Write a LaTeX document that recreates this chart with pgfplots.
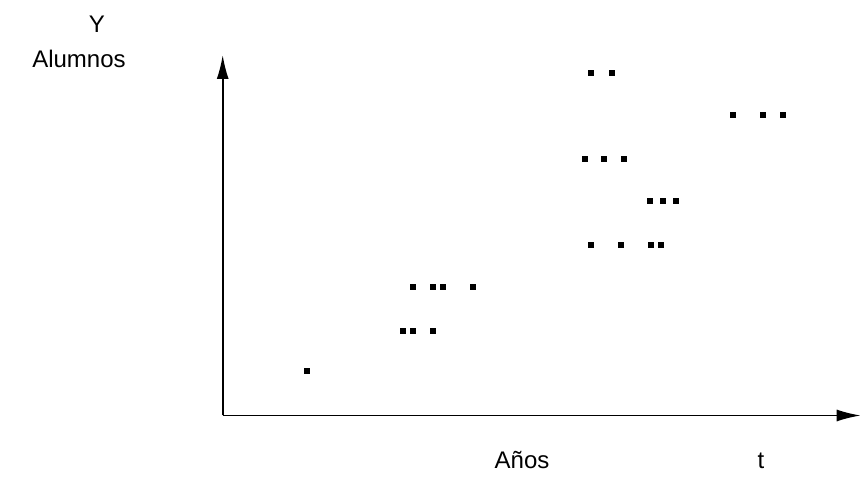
\documentclass[border=0pt]{standalone}
\usepackage{pgfplots}
\pgfplotsset{compat=1.18}
\usetikzlibrary{arrows.meta}
\usepackage{fontspec}
\setmainfont{Liberation Sans}
\begin{document}
\begin{tikzpicture}[x=1pt,y=1pt]
\useasboundingbox (0,0) rectangle (861,476);
\begin{axis}[
  at={(222.7pt,60.5pt)}, anchor=south west,
  scale only axis, width=638pt, height=360.5pt,
  xmin=0, xmax=638, ymin=0, ymax=360.5,
  axis lines=left,
  axis line style={line width=1.8pt, -{Latex[length=24pt,width=12pt]}},
  xtick=\empty, ytick=\empty,
  clip=false,
]
\addplot[only marks, mark=square*, mark size=2.5pt, mark options={fill=black, draw=black, line width=0pt}] coordinates {
(84.5,44.5)
(180,84.5) (190,84.5) (210,84.5)
(190,128) (210,128) (220,128) (250,128)
(368,170.5) (398,170.5) (428,170.5) (438,170.5)
(427,214) (440.6,214) (453.3,214)
(362,256.5) (381.6,256.5) (401.6,256.5)
(510,300) (540.6,300) (560,300)
(368,342) (389,342)
};
\end{axis}
\node[anchor=base, font=\fontsize{24}{28}\selectfont] at (97,443) {Y};
\node[anchor=base, font=\fontsize{24}{28}\selectfont] at (79,408) {Alumnos};
\node[anchor=base, font=\fontsize{24}{28}\selectfont] at (522,7) {Años};
\node[anchor=base, font=\fontsize{24}{28}\selectfont] at (761,7) {t};
\end{tikzpicture}
\end{document}
